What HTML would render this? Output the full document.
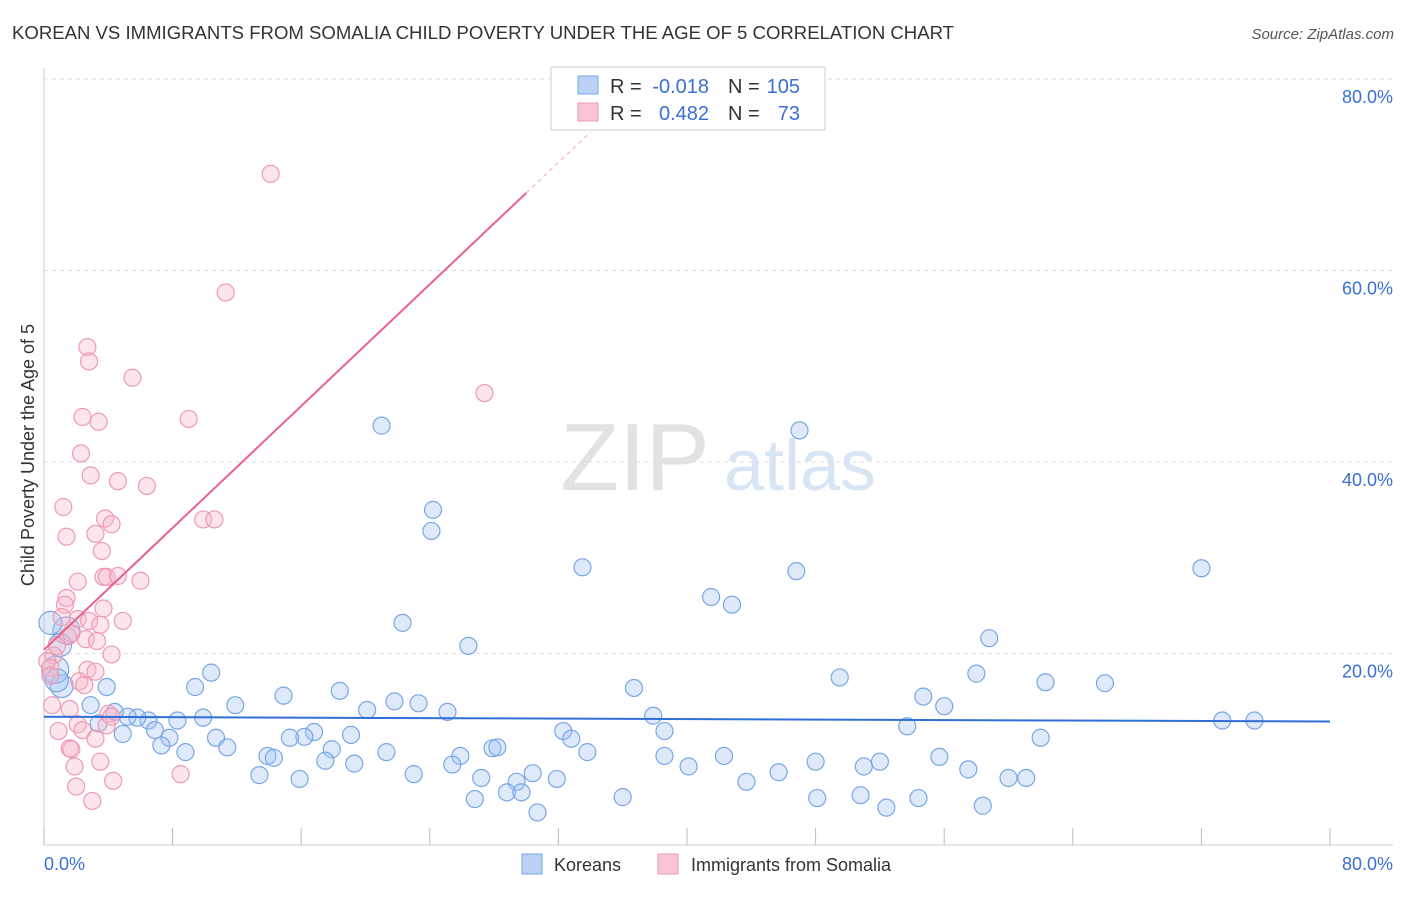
<!DOCTYPE html>
<html><head><meta charset="utf-8"><style>
body{margin:0;background:#fff;font-family:"Liberation Sans",sans-serif;}
svg text{font-family:"Liberation Sans",sans-serif;}
</style></head><body>
<svg id="chart" width="1406" height="892">
<text x="12" y="39" font-size="18" fill="#333" textLength="942" lengthAdjust="spacingAndGlyphs">KOREAN VS IMMIGRANTS FROM SOMALIA CHILD POVERTY UNDER THE AGE OF 5 CORRELATION CHART</text>
<text x="1394" y="39" font-size="15" fill="#555" font-style="italic" text-anchor="end">Source: ZipAtlas.com</text>
<text x="635" y="490" font-size="96" fill="#e2e2e2" font-family="Liberation Serif" text-anchor="middle">ZIP</text>
<text x="800" y="490" font-size="72" fill="#d8e5f5" text-anchor="middle">atlas</text>
<g id="grid"></g><g id="ticks"></g><g id="pts"></g><g id="trends"></g>
<text transform="translate(34,455) rotate(-90)" font-size="18" fill="#333" text-anchor="middle">Child Poverty Under the Age of 5</text>
<text x="44" y="870" font-size="18" fill="#3b6fd4">0.0%</text>
<text x="1393" y="870" font-size="18" fill="#3b6fd4" text-anchor="end">80.0%</text>
<g>
<rect x="551" y="67" width="274" height="63" fill="#fff" stroke="#ccc"/>
<rect x="578" y="76" width="20" height="18" fill="#b9d2f5" stroke="#7aa6e6"/>
<rect x="578" y="103" width="20" height="18" fill="#f8c6d4" stroke="#ee9ab3"/>
<text x="610" y="93" font-size="20" fill="#333">R =</text>
<text x="709" y="93" font-size="20" fill="#3b6fd4" text-anchor="end">-0.018</text>
<text x="728" y="93" font-size="20" fill="#333">N =</text>
<text x="800" y="93" font-size="20" fill="#3b6fd4" text-anchor="end">105</text>
<text x="610" y="120" font-size="20" fill="#333">R =</text>
<text x="709" y="120" font-size="20" fill="#3b6fd4" text-anchor="end">0.482</text>
<text x="728" y="120" font-size="20" fill="#333">N =</text>
<text x="800" y="120" font-size="20" fill="#3b6fd4" text-anchor="end">73</text>
</g>
<g>
<rect x="522" y="854" width="20" height="20" fill="#b9d2f5" stroke="#7aa6e6"/>
<text x="554" y="871" font-size="18" fill="#333">Koreans</text>
<rect x="658" y="854" width="20" height="20" fill="#f8c6d4" stroke="#ee9ab3"/>
<text x="691" y="871" font-size="18" fill="#333">Immigrants from Somalia</text>
</g>
</svg>
<script>
const yTicks=[20,40,60,80];
const xTicks=[0,10,20,30,40,50,60,70,80,90,100];
const koreanX=[21.0,47.0,24.2,24.1,33.5,46.8,72.0,41.5,42.8,22.3,58.8,26.4,10.4,3.9,9.4,49.5,58.0,62.3,66.0,36.7,14.9,18.4,21.8,23.3,11.9,54.7,56.0,20.1,25.1,37.9,9.9,8.3,6.5,5.8,5.2,3.4,4.9,6.9,53.7,73.3,75.3,38.6,32.3,32.8,16.8,16.2,15.3,19.1,7.8,10.7,11.4,7.3,8.8,13.9,14.3,17.9,21.3,25.9,27.9,28.2,33.8,38.6,42.3,62.0,55.7,17.5,19.3,25.4,48.0,51.0,52.0,40.1,57.5,23.0,13.4,15.9,27.2,29.4,30.4,31.9,43.7,45.7,60.0,61.1,26.8,28.8,29.7,36.0,48.1,50.8,54.4,58.4,52.4,30.7,1.1,1.4,0.4,0.7,0.8,2.9,4.4,1.0];
const koreanY=[43.8,43.3,35.0,32.8,29.0,28.6,28.9,25.9,25.1,23.2,21.6,20.8,18.0,16.5,16.5,17.5,17.9,17.0,16.9,16.4,15.6,16.1,15.0,14.8,14.6,15.5,14.5,14.1,13.9,13.5,13.3,13.0,13.0,13.3,13.4,12.7,11.6,12.0,12.4,13.0,13.0,11.9,11.9,11.1,11.8,11.3,11.2,11.5,11.2,11.2,10.2,10.4,9.7,9.3,9.1,10.0,9.7,9.3,10.1,10.2,9.7,9.3,9.3,11.2,9.2,8.8,8.5,8.4,8.7,8.2,8.7,8.2,7.9,7.4,7.3,6.9,7.0,6.6,7.5,6.9,6.6,7.6,7.0,7.0,4.8,5.5,5.5,5.0,4.9,5.2,4.9,4.1,3.9,3.4,16.6,22.4,23.2,18.3,17.2,14.6,13.9,20.9];
const koreanR=[9,9,9,9,9,9,9,9,9,9,9,9,9,9,9,9,9,9,9,9,9,9,9,9,9,9,9,9,9,9,9,9,9,9,9,9,9,9,9,9,9,9,9,9,9,9,9,9,9,9,9,9,9,9,9,9,9,9,9,9,9,9,9,9,9,9,9,9,9,9,9,9,9,9,9,9,9,9,9,9,9,9,9,9,9,9,9,9,9,9,9,9,9,9,12,14,12,14,12,9,9,12];
const somaliX=[14.1,11.3,27.4,2.7,2.8,5.5,2.4,3.4,9.0,2.3,2.9,4.6,6.4,1.2,3.8,4.2,9.9,10.6,1.4,3.2,3.6,2.1,3.7,3.9,4.6,6.0,1.4,1.3,3.7,1.1,2.1,2.8,4.9,3.5,1.5,1.7,2.6,3.3,0.8,0.6,4.2,0.2,0.4,2.7,3.2,0.4,2.2,2.5,0.5,1.6,4.0,4.2,2.1,2.4,3.9,0.9,3.2,1.6,1.7,1.9,3.5,8.5,4.3,2.0,3.0];
const somaliY=[70.1,57.7,47.2,52.0,50.5,48.8,44.7,44.2,44.5,40.9,38.6,38.0,37.5,35.3,34.1,33.5,34.0,34.0,32.2,32.5,30.7,27.5,28.0,28.0,28.1,27.6,25.8,25.1,24.7,23.8,23.6,23.4,23.4,23.0,21.8,22.1,21.5,21.3,20.8,19.8,19.9,19.2,18.5,18.3,18.1,17.7,17.1,16.7,14.6,14.2,13.7,13.4,12.6,12.0,12.5,11.9,11.1,10.1,10.0,8.2,8.7,7.4,6.7,6.1,4.6];
const koreanTrend=[13.4,12.9];
const somaliTrend=[20.4,1.59];
const NS="http://www.w3.org/2000/svg";
const X=v=>44+v*16.075, Y=v=>845-v*9.575;
function mk(t,a,p){const e=document.createElementNS(NS,t);for(const k in a)e.setAttribute(k,a[k]);p.appendChild(e);return e;}
const grid=document.getElementById('grid'),ticks=document.getElementById('ticks'),pts=document.getElementById('pts'),tr=document.getElementById('trends');
mk('line',{x1:44,y1:68,x2:44,y2:845,stroke:'#ccc'},grid);
mk('line',{x1:44,y1:845,x2:1393,y2:845,stroke:'#ccc'},grid);
yTicks.forEach(t=>{
 const l=mk('line',{x1:44,x2:1393,y1:Y(t),y2:Y(t),stroke:'#ddd','stroke-dasharray':'4,4'},grid);
 
 
 const tx=mk('text',{x:1393,y:Y(t)+24,'font-size':18,fill:'#3b6fd4','text-anchor':'end'},grid);
 tx.textContent=t.toFixed(1)+'%';
 
 
});
xTicks.forEach(t=>{
 const l=mk('line',{x1:X(t*0.8),x2:X(t*0.8),y1:828,y2:845,stroke:'#bbb'},ticks);
 
 
});
koreanX.forEach((v,i)=>{
 const c=mk('circle',{cx:X(v),cy:Y(koreanY[i]),r:koreanR[i]-0.5,fill:'rgba(160,196,240,0.35)',stroke:'#7aa6e6','stroke-width':1.2},pts);
 
 
});
somaliX.forEach((v,i)=>{
 const c=mk('circle',{cx:X(v),cy:Y(somaliY[i]),r:8.5,fill:'rgba(246,180,200,0.35)',stroke:'#ee9ab3','stroke-width':1.2},pts);
 
 
});
const kl=mk('line',{x1:X(0),y1:Y(koreanTrend[0]),x2:X(80),y2:Y(koreanTrend[1]),stroke:'#2f6fd6','stroke-width':2},tr);


const sl=mk('line',{x1:X(0),y1:Y(somaliTrend[0]),x2:X(30),y2:Y(somaliTrend[0]+somaliTrend[1]*30),stroke:'#e9628c','stroke-width':2},tr);


const sd=mk('line',{x1:X(30),y1:Y(somaliTrend[0]+somaliTrend[1]*30),x2:X(34),y2:Y(somaliTrend[0]+somaliTrend[1]*34),stroke:'#f0a0b8','stroke-width':1,'stroke-dasharray':'4,4'},tr);


</script>
</body></html>
